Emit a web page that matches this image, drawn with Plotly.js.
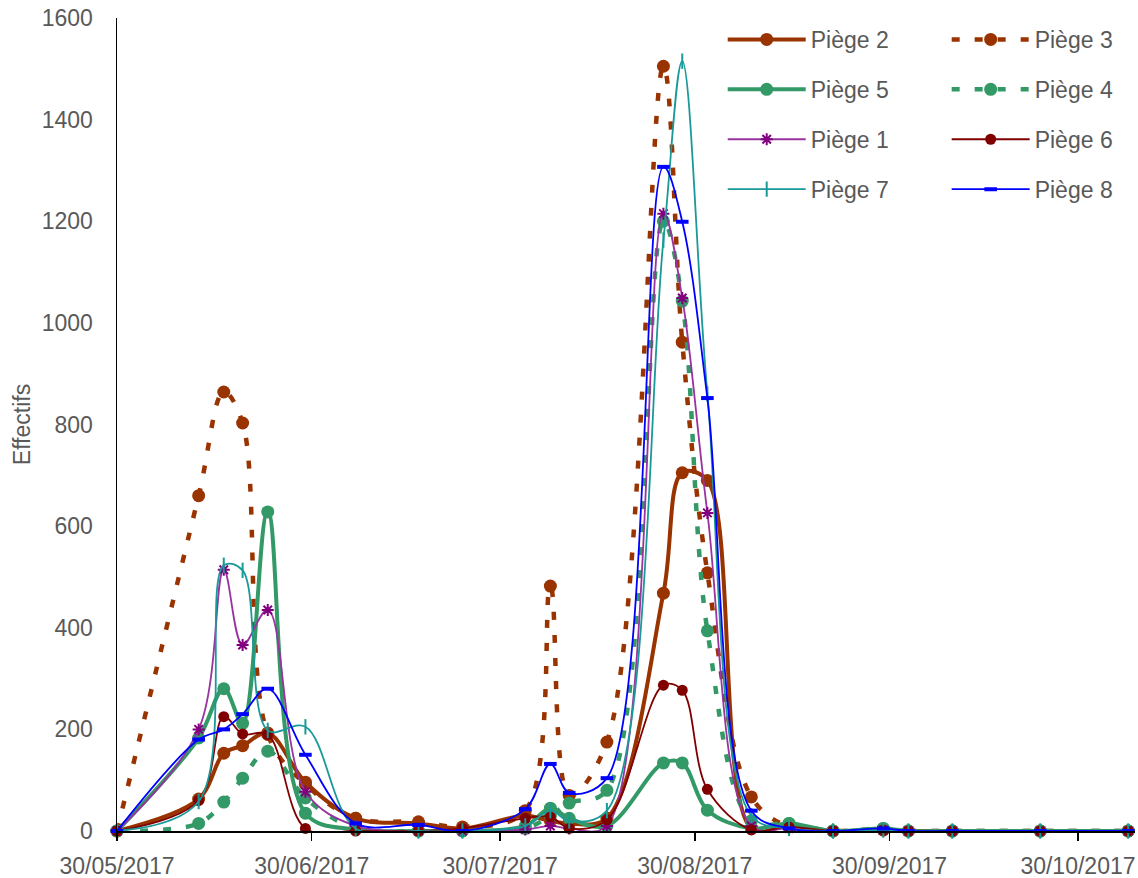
<!DOCTYPE html>
<html>
<head>
<meta charset="utf-8">
<script src="https://cdn.plot.ly/plotly-3.0.1.min.js"></script>
<style>
  html, body { margin: 0; padding: 0; background: #fff; }
  #chart { width: 1138px; height: 878px; }
</style>
</head>
<body>
<div id="chart"></div>
<script>
// Sampling dates
const dates = ['2017-05-30','2017-06-12','2017-06-16','2017-06-19','2017-06-23','2017-06-29',
  '2017-07-07','2017-07-17','2017-07-24','2017-08-03','2017-08-07','2017-08-10','2017-08-16',
  '2017-08-25','2017-08-28','2017-09-01','2017-09-08','2017-09-14','2017-09-21','2017-09-29',
  '2017-10-03','2017-10-10','2017-10-24','2017-11-07'];

// Catches per trap
const piege2 = [0, 63, 153, 168, 193, 96, 25, 15, 5, 30, 20, 15, 25, 468, 705, 690, 5, 10, 0, 2, 0, 0, 0, 0];
const piege3 = [0, 660, 864, 803, 190, 92, 25, 18, 8, 40, 482, 70, 175, 1505, 962, 508, 67, 8, 0, 2, 0, 0, 0, 0];
const piege5 = [0, 183, 280, 212, 628, 35, 3, 0, 0, 10, 45, 25, 10, 134, 134, 41, 5, 15, 0, 5, 0, 0, 0, 0];
const piege4 = [0, 15, 57, 104, 157, 65, 5, 0, 0, 5, 30, 55, 80, 1200, 1043, 394, 20, 15, 0, 5, 0, 0, 0, 0];
const piege1 = [0, 200, 514, 366, 435, 77, 10, 0, 0, 3, 10, 5, 10, 1215, 1049, 626, 10, 5, 0, 2, 0, 0, 0, 0];
const piege6 = [0, 60, 225, 191, 190, 5, 0, 0, 5, 25, 28, 5, 22, 287, 277, 82, 2, 8, 0, 2, 0, 0, 0, 0];
const piege7 = [0, 58, 523, 513, 198, 205, 5, 0, 0, 10, 40, 20, 40, 1163, 1515, 860, 30, 5, 0, 2, 0, 0, 0, 0];
const piege8 = [0, 180, 200, 230, 280, 150, 15, 12, 0, 43, 132, 75, 104, 1307, 1199, 852, 40, 5, 0, 5, 0, 0, 0, 0];

const tickDates = ['2017-05-30','2017-06-30','2017-07-30','2017-08-30','2017-09-30','2017-10-30'];
const tickText = ['30/05/2017','30/06/2017','30/07/2017','30/08/2017','30/09/2017','30/10/2017'];

const BROWN = '#993300', GREEN = '#339966', PURPLE = '#9933a0', DRED = '#800000', TEAL = '#1a9999', BLUE = '#0000ff';

function tr(name, y, opts) {
  return Object.assign({
    type: 'scatter', mode: 'lines+markers', x: dates, y: y, name: name,
    cliponaxis: false, legendgroup: name,
  }, opts);
}

const data = [
  tr('Piège 2', piege2, {legend: 'legend', line: {color: BROWN, width: 4, shape: 'spline', smoothing: 1},
     marker: {symbol: 'circle', size: 13, color: BROWN}}),
  tr('Piège 3', piege3, {legend: 'legend2', line: {color: BROWN, width: 4.5, dash: '8px,15px', shape: 'spline', smoothing: 1},
     marker: {symbol: 'circle', size: 13, color: BROWN}}),
  tr('Piège 5', piege5, {legend: 'legend', line: {color: GREEN, width: 4, shape: 'spline', smoothing: 1},
     marker: {symbol: 'circle', size: 13, color: GREEN}}),
  tr('Piège 4', piege4, {legend: 'legend2', line: {color: GREEN, width: 4.5, dash: '8px,15px', shape: 'spline', smoothing: 1},
     marker: {symbol: 'circle', size: 13, color: GREEN}}),
  tr('Piège 1', piege1, {legend: 'legend', line: {color: PURPLE, width: 1.8, shape: 'spline', smoothing: 1},
     marker: {symbol: 'asterisk-open', size: 10, color: '#800080', line: {color: '#800080', width: 2}}}),
  tr('Piège 6', piege6, {legend: 'legend2', line: {color: DRED, width: 1.8, shape: 'spline', smoothing: 1},
     marker: {symbol: 'circle', size: 11, color: DRED}}),
  tr('Piège 7', piege7, {legend: 'legend', line: {color: TEAL, width: 1.8, shape: 'spline', smoothing: 1},
     marker: {symbol: 'line-ns-open', size: 11, color: TEAL, line: {color: TEAL, width: 2}}}),
  tr('Piège 8', piege8, {legend: 'legend2', line: {color: BLUE, width: 1.8, shape: 'spline', smoothing: 1},
     marker: {symbol: 'line-ew-open', size: 9, color: BLUE, line: {color: BLUE, width: 4}}}),
];

const legendCommon = {
  orientation: 'v', xanchor: 'left', yanchor: 'top', yref: 'paper', y: 1.0,
  bgcolor: 'rgba(0,0,0,0)', borderwidth: 0, itemwidth: 78, tracegroupgap: 17,
  font: {family: 'Liberation Sans, Arial, sans-serif', size: 23, color: '#595959'},
  itemclick: false, itemdoubleclick: false
};

const layout = {
  width: 1138, height: 878,
  margin: {l: 117, r: 3, t: 18, b: 47, pad: 0},
  paper_bgcolor: '#ffffff', plot_bgcolor: '#ffffff',
  font: {family: 'Liberation Sans, Arial, sans-serif', size: 23, color: '#595959'},
  showlegend: true,
  legend: Object.assign({}, legendCommon, {x: 0.595}),
  legend2: Object.assign({}, legendCommon, {x: 0.815}),
  xaxis: {
    type: 'date', range: ['2017-05-30', '2017-11-08 02:00'],
    tickmode: 'array', tickvals: tickDates, ticktext: tickText,
    showgrid: false, zeroline: false, showline: true, linecolor: '#000', linewidth: 1.5,
    ticks: 'outside', ticklen: 8, tickwidth: 1.5, tickcolor: '#000',
    ticklabelstandoff: 6,
    tickfont: {size: 23, color: '#595959'}
  },
  yaxis: {
    range: [0, 1600], tickmode: 'linear', tick0: 0, dtick: 200,
    showgrid: false, zeroline: false, showline: true, linecolor: '#000', linewidth: 1.5,
    ticks: '', ticklabelstandoff: 18,
    tickfont: {size: 23, color: '#595959'},
    title: {text: 'Effectifs', font: {size: 23, color: '#595959'}, standoff: 4}
  }
};

Plotly.newPlot('chart', data, layout, {displayModeBar: false, staticPlot: true});
</script>
</body>
</html>
